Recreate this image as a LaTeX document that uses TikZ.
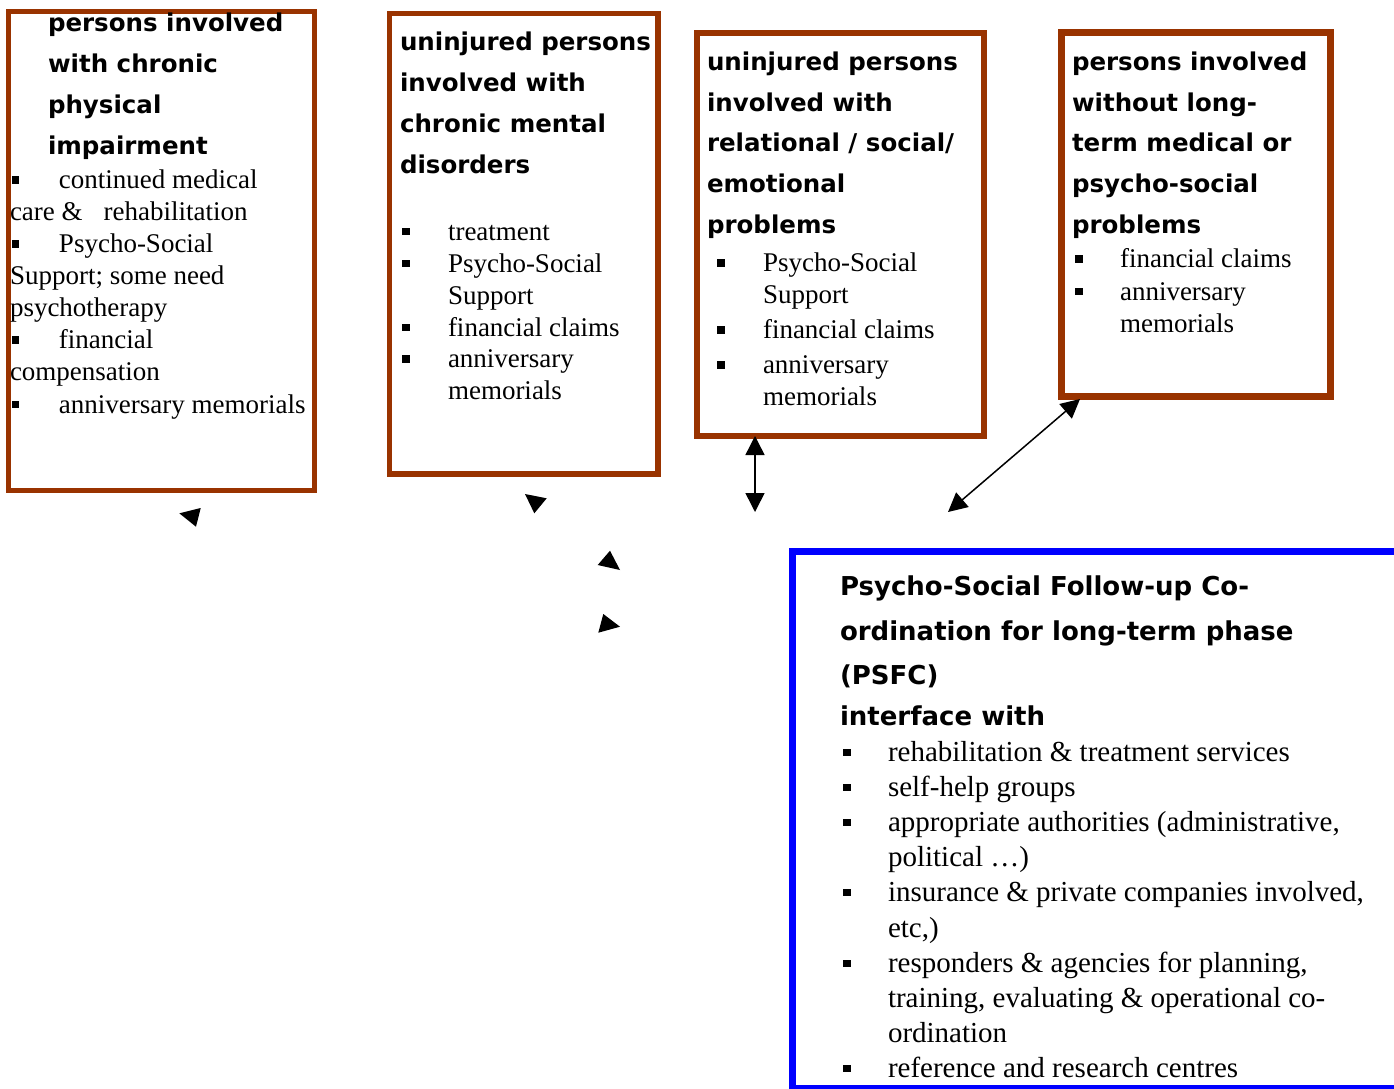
\documentclass[tikz,border=0pt]{standalone}
\usepackage{fontspec}
\setmainfont{Liberation Serif}
\newfontfamily\titlefam{DejaVu Sans}
\usetikzlibrary{arrows.meta,calc}
\definecolor{brownc}{HTML}{993300}
\definecolor{bluec}{HTML}{0000FF}
\newcommand\ttlfont{\titlefam\bfseries\fontsize{24.5}{30}\selectfont}
\newcommand\bigttlfont{\titlefam\bfseries\fontsize{26}{32}\selectfont}
\newcommand\txtfont{\fontsize{27}{32}\selectfont}
\newcommand\bigtxtfont{\fontsize{29}{35}\selectfont}
\newcommand\bulx[1]{\makebox[#1][l]{\rule[5pt]{7.5pt}{7.5pt}}}
\tikzset{
  box/.style={draw=brownc, line width=5.5pt, rectangle, inner sep=0pt, outer sep=0pt},
  ttl/.style={anchor=base west, inner sep=0pt, outer sep=0pt, font=\ttlfont},
  bigttl/.style={anchor=base west, inner sep=0pt, outer sep=0pt, font=\bigttlfont},
  txt/.style={anchor=base west, inner sep=0pt, outer sep=0pt, font=\txtfont},
  bigtxt/.style={anchor=base west, inner sep=0pt, outer sep=0pt, font=\bigtxtfont},
  dblarrow/.style={line width=1.5pt, {Triangle[length=19pt,width=19pt]}-{Triangle[length=19pt,width=19pt]}},
  head/.style={fill=black}
}
\begin{document}
\begin{tikzpicture}[x=1pt,y=-1pt]
\clip (0,0) rectangle (1394,1088);
\fill[white] (0,0) rectangle (1394,1088);

% boxes
\node[box, minimum width=306pt, minimum height=479pt] (b1) at (161.5,251) {};
\node[box, minimum width=268.5pt, minimum height=460.5pt] (b2) at (523.75,243.75) {};
\node[box, minimum width=287pt, minimum height=403pt] (b3) at (840.5,234.5) {};
\node[box, line width=7pt, minimum width=269pt, minimum height=364pt] (b4) at (1195.5,214) {};
\node[box, draw=bluec, line width=7pt, minimum width=627.5pt, minimum height=537.5pt] (psfc) at (1106.25,819.75) {};

% box 1
\node[ttl] (b1t1) at (48,31.5) {persons involved};
\node[ttl] (b1t2) at (48,72.5) {with chronic};
\node[ttl] (b1t3) at (48,113.5) {physical};
\node[ttl] (b1t4) at (48,154.5) {impairment};
\node[txt] (b1l1) at (12,188.5) {\bulx{47pt}continued medical};
\node[txt] (b1l2) at (10,220.5) {care \&\hspace{21pt}rehabilitation};
\node[txt] (b1l3) at (12,252.5) {\bulx{47pt}Psycho-Social};
\node[txt] (b1l4) at (10,284.5) {Support; some need};
\node[txt] (b1l5) at (10,316.5) {psychotherapy};
\node[txt] (b1l6) at (12,348.5) {\bulx{47pt}financial};
\node[txt] (b1l7) at (10,380.5) {compensation};
\node[txt] (b1l8) at (12,413) {\bulx{47pt}anniversary memorials};

% box 2
\node[ttl] (b2t1) at (400,50.5) {uninjured persons};
\node[ttl] (b2t2) at (400,91.5) {involved with};
\node[ttl] (b2t3) at (400,132.5) {chronic mental};
\node[ttl] (b2t4) at (400,173.5) {disorders};
\node[txt] (b2l1) at (402,240) {\bulx{46pt}treatment};
\node[txt] (b2l2) at (402,272) {\bulx{46pt}Psycho-Social};
\node[txt] (b2l3) at (448,304) {Support};
\node[txt] (b2l4) at (402,336) {\bulx{46pt}financial claims};
\node[txt] (b2l5) at (402,367.5) {\bulx{46pt}anniversary};
\node[txt] (b2l6) at (448,399) {memorials};

% box 3
\node[ttl] (b3t1) at (707,70.5) {uninjured persons};
\node[ttl] (b3t2) at (707,111) {involved with};
\node[ttl] (b3t3) at (707,151.5) {relational / social/};
\node[ttl] (b3t4) at (707,192.5) {emotional};
\node[ttl] (b3t5) at (707,233.5) {problems};
\node[txt] (b3l1) at (717,271.5) {\bulx{46pt}Psycho-Social};
\node[txt] (b3l2) at (763,303.5) {Support};
\node[txt] (b3l3) at (717,338.5) {\bulx{46pt}financial claims};
\node[txt] (b3l4) at (717,373.5) {\bulx{46pt}anniversary};
\node[txt] (b3l5) at (763,405.5) {memorials};

% box 4
\node[ttl] (b4t1) at (1072,70.5) {persons involved};
\node[ttl] (b4t2) at (1072,111) {without long-};
\node[ttl] (b4t3) at (1072,151.5) {term medical or};
\node[ttl] (b4t4) at (1072,192.5) {psycho-social};
\node[ttl] (b4t5) at (1072,233.5) {problems};
\node[txt] (b4l1) at (1075,267.5) {\bulx{45pt}financial claims};
\node[txt] (b4l2) at (1075,300) {\bulx{45pt}anniversary};
\node[txt] (b4l3) at (1120,332.5) {memorials};

% PSFC box
\node[bigttl] (pt1) at (840,595) {Psycho-Social Follow-up Co-};
\node[bigttl] (pt2) at (840,640) {ordination for long-term phase};
\node[bigttl] (pt3) at (840,684) {(PSFC)};
\node[bigttl] (pt4) at (840,725) {interface with};
\node[bigtxt] (pl1) at (843,761) {\bulx{45pt}rehabilitation \& treatment services};
\node[bigtxt] (pl2) at (843,796) {\bulx{45pt}self-help groups};
\node[bigtxt] (pl3) at (843,831) {\bulx{45pt}appropriate authorities (administrative,};
\node[bigtxt] (pl4) at (888,866) {political \dots)};
\node[bigtxt] (pl5) at (843,901) {\bulx{45pt}insurance \& private companies involved,};
\node[bigtxt] (pl6) at (888,937) {etc,)};
\node[bigtxt] (pl7) at (843,972) {\bulx{45pt}responders \& agencies for planning,};
\node[bigtxt] (pl8) at (888,1007) {training, evaluating \& operational co-};
\node[bigtxt] (pl9) at (888,1042) {ordination};
\node[bigtxt] (pl10) at (843,1077) {\bulx{45pt}reference and research centres};

% connectors
\coordinate (c3top) at ($(b3.south west)+(58,0)$);
\coordinate (c3end) at (755,512);
\draw[dblarrow] (c3top) -- (c3end);
\coordinate (c4top) at ($(b4.south west)+(19,3)$);
\coordinate (c4end) at (948,512);
\draw[dblarrow] (c4top) -- (c4end);

% stray arrowheads
\fill[head] (179.3,513.3) -- (200.7,508) -- (196,526.7) -- cycle;
\fill[head] (525,494) -- (546.7,498.3) -- (534.3,513.3) -- cycle;
\fill[head] (610,550.7) -- (597.7,565) -- (620,570) -- cycle;
\fill[head] (620,626.7) -- (603.3,614) -- (598.3,632.7) -- cycle;
\end{tikzpicture}
\end{document}
